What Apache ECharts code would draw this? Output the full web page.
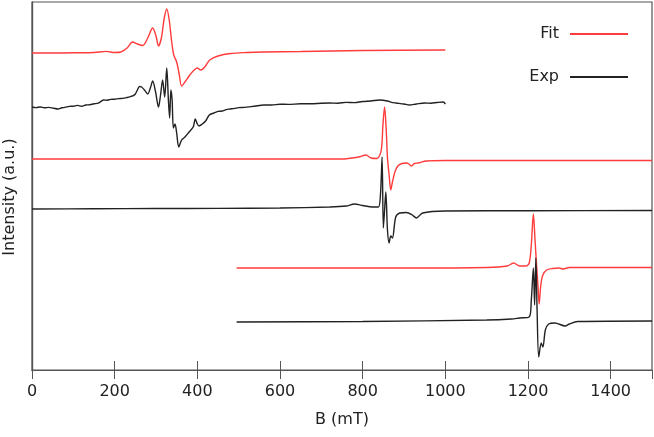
<!DOCTYPE html>
<html>
<head>
<meta charset="utf-8">
<script src="https://cdn.jsdelivr.net/npm/echarts@6/dist/echarts.min.js"></script>
<style>
  html, body { margin: 0; padding: 0; background: #fff; }
  #chart { width: 654px; height: 437px; }
</style>
</head>
<body>
<div id="chart"></div>
<script>
// B (mT) ticks
var xTicks = [0, 200, 400, 600, 800, 1000, 1200, 1400];

// spectra, [B, intensity] pairs, stacked with offsets (a.u.)
var fitTop = [
  [0, 317], [50, 317], [100, 317.2], [150, 317.5], [180, 318.6], [200, 317.5], [215, 318],
  [230, 322], [243, 328], [255, 326], [268, 324.5], [280, 332], [292, 342], [300, 334],
  [306, 324], [313, 332], [320, 352], [326, 361], [332, 350], [338, 328], [343, 315],
  [350, 308], [356, 296], [362, 284], [370, 288], [380, 294], [390, 299], [400, 302],
  [408, 300], [418, 303], [430, 310], [450, 314], [480, 316.5], [520, 317.5], [560, 318],
  [650, 318.5], [800, 319.5], [1000, 320]
];
var expTop = [
  [0, 263], [10, 262.4], [20, 263], [30, 262.2], [40, 262.6], [52, 261.8], [63, 261],
  [72, 262.2], [80, 262.6], [90, 263.6], [100, 263.8], [110, 264.6], [120, 263.8],
  [130, 265], [140, 265.2], [150, 266.2], [160, 266.8], [167, 268.6], [173, 270],
  [182, 269.8], [190, 270.6], [200, 270.8], [210, 271.4], [220, 271.6], [230, 272.5],
  [238, 273.4], [245, 274.4], [250, 276], [255, 280], [260, 283.5], [265, 283], [272, 280],
  [280, 276], [287, 283], [292, 289], [299, 278], [306, 263], [311, 275], [316, 290],
  [321, 273], [326, 302], [330, 270], [333, 252], [336, 280], [339, 270], [342, 242],
  [346, 246], [350, 237], [355, 223], [362, 230], [370, 233], [380, 238], [390, 243],
  [395, 251], [400, 246], [404, 244], [412, 246], [420, 249], [429, 255], [440, 257],
  [450, 258.6], [460, 259], [470, 260.4], [480, 261], [490, 261.6], [500, 262.4], [515, 262.6],
  [530, 263.4], [545, 264.2], [560, 265], [580, 265], [600, 265.8], [620, 265.6], [650, 266.2],
  [675, 266.2], [700, 266.8], [720, 267], [740, 266.8], [760, 267.6], [780, 267.4],
  [800, 268.5], [820, 269], [841, 270], [860, 269], [870, 267.6], [881, 267], [900, 266],
  [913, 265], [930, 266], [950, 267], [965, 266.8], [980, 267.5], [995, 268], [1000, 266]
];
var fitMid = [
  [0, 211], [300, 211], [600, 211], [750, 211], [790, 213], [808, 215], [820, 212],
  [835, 211.5], [845, 220], [849, 245], [853, 263], [857, 240], [860, 212], [864, 195],
  [868, 180], [872, 188], [878, 198], [885, 204], [895, 206.5], [906, 207], [912, 206],
  [918, 204], [925, 206.5], [935, 207], [954, 209], [1000, 209.5], [1500, 209.5]
];
var expMid = [
  [0, 161], [150, 161.2], [300, 161.5], [450, 161.6], [600, 162], [720, 163], [760, 164],
  [780, 166], [800, 164.5], [824, 163], [838, 163], [843, 175], [847, 213], [850, 142],
  [853, 160], [856, 178], [860, 140], [864, 127], [868, 134], [872, 132], [880, 153],
  [890, 157], [906, 157.5], [920, 155], [930, 152], [945, 157], [1000, 159], [1200, 159.3],
  [1500, 159.5]
];
var fitLow = [
  [495, 102], [900, 102], [1100, 102.5], [1150, 104], [1165, 107], [1180, 104], [1195, 104],
  [1203, 107], [1208, 125], [1213, 156], [1217, 130], [1220, 110], [1224, 85], [1227, 66],
  [1231, 85], [1236, 95], [1245, 100], [1260, 101.5], [1275, 102], [1285, 101], [1300, 102.5],
  [1500, 102.5]
];
var expLow = [
  [495, 48], [800, 48.5], [1100, 50], [1160, 51], [1180, 52], [1203, 53], [1208, 70],
  [1213, 102], [1216, 65], [1219, 112], [1222, 60], [1226, 13], [1232, 27], [1236, 23],
  [1242, 40], [1250, 46], [1265, 47], [1290, 44], [1300, 46], [1320, 48.5], [1500, 49]
];

var red = '#ff3b3b';
var dark = '#222222';
var frame = '#555555';

function trace(name, data, color) {
  return {
    name: name,
    type: 'line',
    data: data,
    symbol: 'none',
    smooth: 0.3,
    lineStyle: { color: color, width: 1.4 },
    itemStyle: { color: color },
    xAxisIndex: 0,
    yAxisIndex: 0
  };
}

var chart = echarts.init(document.getElementById('chart'));
var font = 'DejaVu Sans';
chart.setOption({
  animation: false,
  textStyle: { fontFamily: font },
  grid: {
    left: 32, right: 2, top: 2, bottom: 67,
    outerBoundsMode: 'none', containLabel: false,
    show: true, borderColor: frame, borderWidth: 1.2
  },
  legend: {
    data: ['Fit', 'Exp'],
    orient: 'vertical',
    right: 21,
    top: 21,
    align: 'right',
    itemWidth: 58,
    itemHeight: 2,
    itemGap: 27,
    icon: 'rect',
    textStyle: { fontSize: 16, color: '#222', fontFamily: font, padding: [0, 6, 0, 0] }
  },
  xAxis: [{
    type: 'value',
    min: 0,
    max: 1500,
    interval: 200,
    name: 'B (mT)',
    nameLocation: 'middle',
    nameGap: 42,
    nameTextStyle: { fontSize: 16, color: '#222' },
    axisLine: { show: true, lineStyle: { color: frame, width: 1.2 } },
    axisTick: { show: true, inside: true, length: 9, lineStyle: { color: frame } },
    axisLabel: {
      fontSize: 16, color: '#222', margin: 14, showMaxLabel: false,
      formatter: function (v) { return xTicks.indexOf(v) >= 0 ? String(v) : ''; }
    },
    splitLine: { show: false }
  }, {
    type: 'value',
    position: 'top',
    min: 0,
    max: 1500,
    interval: 200,
    axisLine: { show: true, lineStyle: { color: frame, width: 1.2 } },
    axisTick: { show: true, inside: true, length: 9, lineStyle: { color: frame } },
    axisLabel: { show: false },
    splitLine: { show: false }
  }],
  yAxis: [{
    type: 'value',
    min: 0,
    max: 368,
    name: 'Intensity (a.u.)',
    nameLocation: 'middle',
    nameGap: 14,
    nameTextStyle: { fontSize: 16, color: '#222', padding: [0, 22, 0, 0] },
    axisLine: { show: true, lineStyle: { color: frame, width: 1.2 } },
    axisTick: { show: false },
    axisLabel: { show: false },
    splitLine: { show: false }
  }, {
    type: 'value',
    position: 'right',
    min: 0,
    max: 368,
    axisLine: { show: true, lineStyle: { color: frame, width: 1.2 } },
    axisTick: { show: false },
    axisLabel: { show: false },
    splitLine: { show: false }
  }],
  series: [
    trace('Fit', fitTop, red),
    trace('Exp', expTop, dark),
    trace('Fit', fitMid, red),
    trace('Exp', expMid, dark),
    trace('Fit', fitLow, red),
    trace('Exp', expLow, dark),
    // empty series so the top/right frame axes are drawn
    { type: 'line', data: [], xAxisIndex: 1, yAxisIndex: 1, silent: true }
  ]
});
</script>
</body>
</html>
